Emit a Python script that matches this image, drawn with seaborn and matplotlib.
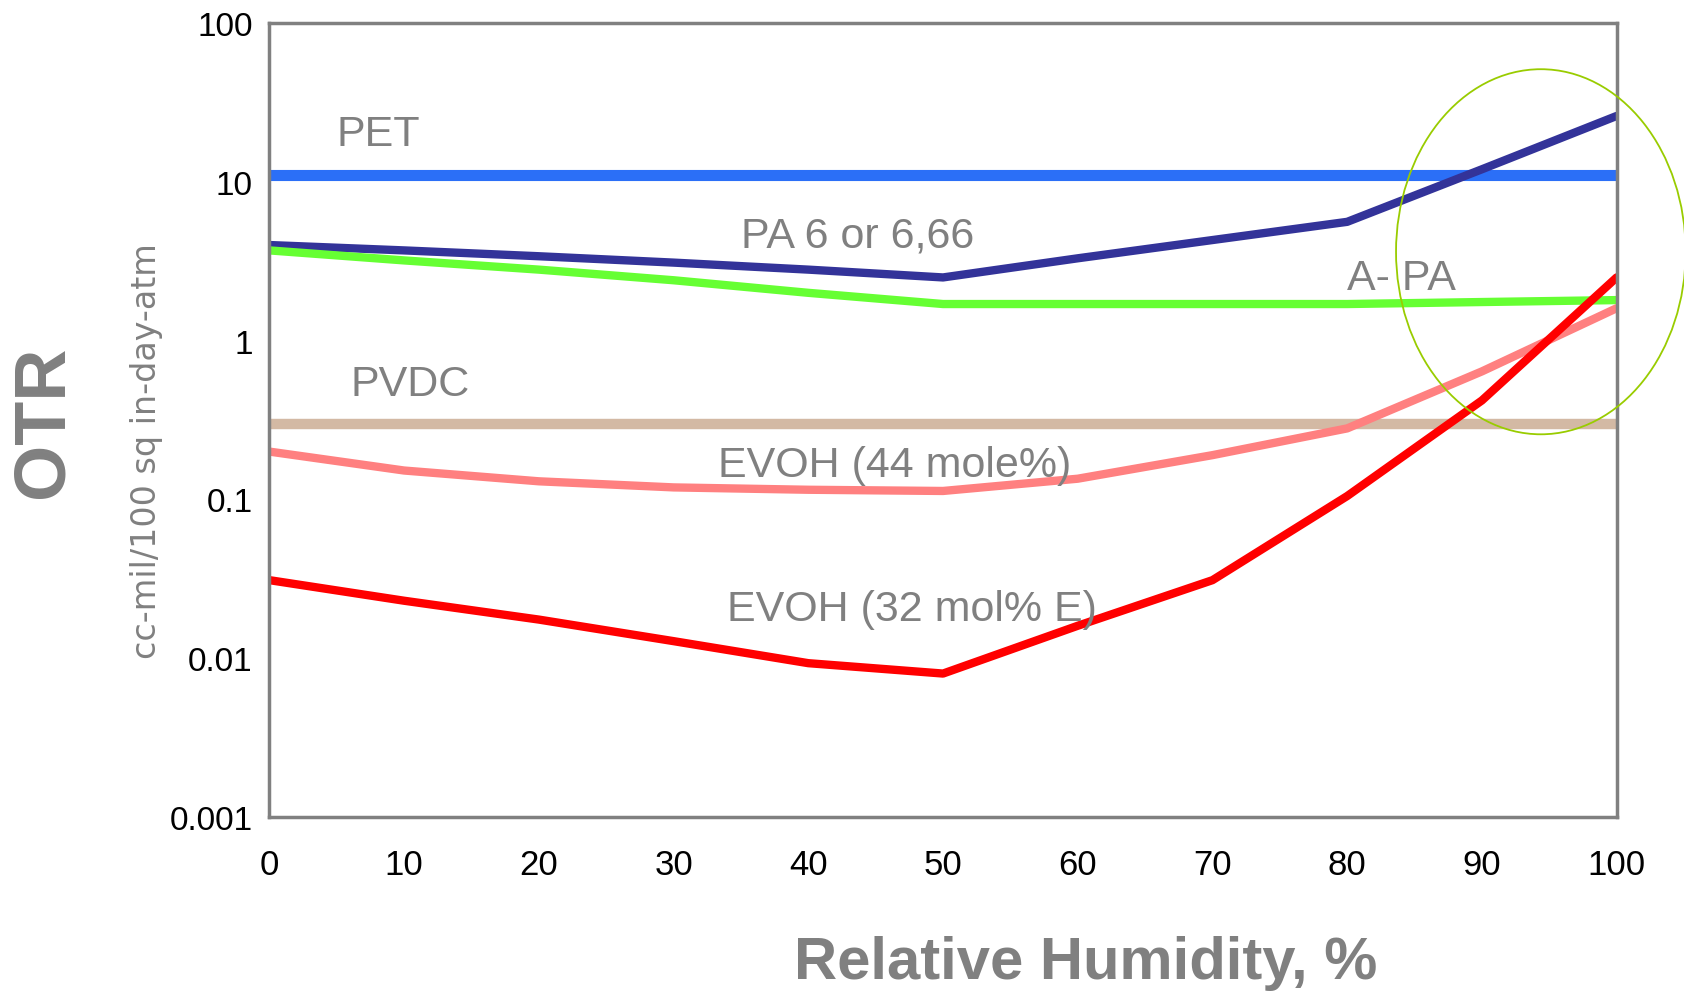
import numpy as np
import pandas as pd
import matplotlib
matplotlib.use("Agg")
import matplotlib.pyplot as plt
import seaborn as sns
from matplotlib.patches import Ellipse
from matplotlib.ticker import FixedLocator, FixedFormatter, NullLocator

# relative humidity, %
rh = [0, 10, 20, 30, 40, 50, 60, 70, 80, 90, 100]

# OTR values, cc-mil/100 sq in-day-atm
pet = [11, 11, 11, 11, 11, 11, 11, 11, 11, 11, 11]
pa6 = [4.0, 3.7, 3.4, 3.1, 2.8, 2.5, 3.3, 4.3, 5.6, 12, 26]
apa = [3.7, 3.2, 2.8, 2.4, 2.0, 1.7, 1.7, 1.7, 1.7, 1.75, 1.8]
pvdc = [0.3, 0.3, 0.3, 0.3, 0.3, 0.3, 0.3, 0.3, 0.3, 0.3, 0.3]
evoh44 = [0.2, 0.152, 0.13, 0.119, 0.115, 0.113, 0.135, 0.19, 0.28, 0.64, 1.6]
evoh32 = [0.031, 0.023, 0.0175, 0.0128, 0.0093, 0.008, 0.016, 0.031, 0.105, 0.42, 2.5]

series = ["PET", "PA 6 or 6,66", "A- PA", "PVDC", "EVOH (44 mole%)", "EVOH (32 mol% E)"]
values = [pet, pa6, apa, pvdc, evoh44, evoh32]
colors = ["#2b6ff7", "#333399", "#66ff33", "#d3b9a4", "#ff8080", "#ff0000"]
widths = [8, 6, 6, 7.5, 6, 6]

# label positions (x, y) in data coords
label_x = [5, 35, 80, 6, 33.3, 34]
label_y = [20, 4.6, 2.47, 0.53, 0.164, 0.0205]

narrow = ["Liberation Sans Narrow", "Liberation Sans", "DejaVu Sans"]

df = pd.DataFrame({
    "rh": rh * len(series),
    "otr": sum(values, []),
    "material": [s for s in series for _ in rh],
})

sns.set_style("white")
fig = plt.figure(figsize=(16.84, 10.03), dpi=100)
ax = fig.add_axes([0.160, 0.1845, 0.800, 0.7915])

for name, col, lw in zip(series, colors, widths):
    sub = df[df["material"] == name]
    sns.lineplot(data=sub, x="rh", y="otr", color=col, linewidth=lw, ax=ax,
                 legend=False)

ax.set_yscale("log")
ax.set_xlim(0, 100)
ax.set_ylim(0.001, 100)

ax.xaxis.set_major_locator(FixedLocator(rh))
ax.set_xticklabels([str(v) for v in rh], family=narrow, fontsize=25)
yt = [0.001, 0.01, 0.1, 1, 10, 100]
ax.yaxis.set_major_locator(FixedLocator(yt))
ax.yaxis.set_major_formatter(FixedFormatter(["0.001", "0.01", "0.1", "1", "10", "100"]))
ax.yaxis.set_minor_locator(NullLocator())
for t in ax.get_yticklabels():
    t.set_family(narrow)
    t.set_fontsize(24)
ax.tick_params(axis="both", direction="inout", length=16, width=1.5,
               color="#555555", labelcolor="black")
ax.tick_params(axis="x", pad=14)
ax.tick_params(axis="y", pad=4)

for sp in ax.spines.values():
    sp.set_color("#808080")
    sp.set_linewidth(2.5)
    sp.set_visible(True)

ax.set_xlabel("")
ax.set_ylabel("")

for name, x, y in zip(series, label_x, label_y):
    ax.text(x, y, name, family=narrow, fontsize=31, color="#808080",
            ha="left", va="center")

fig.text(0.645, 0.039, "Relative Humidity, %", family=narrow, fontsize=43,
         fontweight="bold", color="#808080", ha="center", va="center")
fig.text(0.026, 0.58, "OTR", family=["Liberation Sans", "DejaVu Sans"],
         fontsize=52, fontweight="bold", color="#808080", rotation=90,
         ha="center", va="center")
fig.text(0.087, 0.55, "cc-mil/100 sq in-day-atm", family=["DejaVu Sans"],
         fontsize=24, color="#808080", rotation=90, ha="center", va="center")

ell = Ellipse((0.915, 0.748), 0.172, 0.364, transform=fig.transFigure,
              fill=False, edgecolor="#99cc00", linewidth=1.3, clip_on=False)
fig.patches.append(ell)

fig.savefig("out.png", dpi=100)
